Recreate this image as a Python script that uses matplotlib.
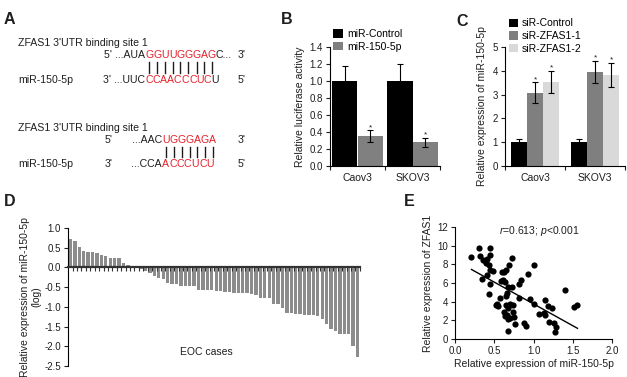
import matplotlib
matplotlib.use('Agg')
import matplotlib.pyplot as plt
import numpy as np
from matplotlib.font_manager import FontProperties

plt.rcParams['font.family'] = ['Liberation Sans', 'DejaVu Sans']
plt.rcParams['axes.unicode_minus'] = False
plt.rcParams['mathtext.fontset'] = 'custom'
plt.rcParams['mathtext.rm'] = 'Liberation Sans'
plt.rcParams['mathtext.it'] = 'Liberation Sans:italic'
plt.rcParams['axes.linewidth'] = 0.8

# ------------------------------------
# Data
# ------------------------------------
# panel A: (black prefix, red paired bases, black suffix)
site1_top = ('5\' ...AUA', 'GGUUGGGAG', 'C...')
site1_mir = ('3\' ...UUC', 'CCAACCCUC', 'U')
site2_top = ('...AAC', 'UGGGAGA', '')
site2_mir = ('...CCA', 'ACCCUCU', '')

cell_lines = ['Caov3', 'SKOV3']

luc_labels = ['miR-Control', 'miR-150-5p']
luc_mean = [[1.0, 1.0], [0.35, 0.28]]
luc_err = [[0.18, 0.20], [0.07, 0.055]]

sirna_labels = ['siR-Control', 'siR-ZFAS1-1', 'siR-ZFAS1-2']
sirna_mean = [[1.0, 1.0], [3.08, 3.95], [3.53, 3.83]]
sirna_err = [[0.12, 0.12], [0.43, 0.46], [0.46, 0.50]]

eoc_log_expr = [0.72, 0.66, 0.53, 0.42, 0.40, 0.38, 0.36, 0.32, 0.29, 0.25,
                0.24, 0.23, 0.11, 0.06, 0.02, -0.02, -0.05, -0.08, -0.13, -0.21,
                -0.28, -0.30, -0.40, -0.42, -0.42, -0.47, -0.47, -0.48, -0.48, -0.57,
                -0.57, -0.58, -0.58, -0.60, -0.61, -0.62, -0.62, -0.64, -0.65, -0.66,
                -0.66, -0.67, -0.69, -0.77, -0.77, -0.77, -0.92, -0.92, -1.04, -1.15,
                -1.16, -1.18, -1.19, -1.20, -1.21, -1.21, -1.24, -1.30, -1.44, -1.55,
                -1.60, -1.68, -1.70, -1.70, -1.99, -2.27]

mir_expr = [0.21, 0.30, 0.32, 0.36, 0.41, 0.44, 0.45, 0.43, 0.44, 0.48,
            0.40, 0.34, 0.41, 0.45, 0.43, 0.63, 0.65, 0.69, 0.72, 0.61,
            0.64, 0.67, 0.72, 0.57, 0.54, 0.55, 0.65, 0.65, 0.67, 0.70,
            0.74, 0.74, 0.62, 0.64, 0.66, 0.68, 0.75, 0.77, 0.68, 0.84,
            0.81, 0.81, 0.93, 1.01, 0.95, 1.00, 1.07, 0.88, 0.90, 1.15,
            1.19, 1.14, 1.15, 1.20, 1.26, 1.29, 1.27, 1.24, 1.40, 1.52,
            1.56, 0.60, 0.52, 0.58, 0.70, 0.66]
zfas1_expr = [8.8, 9.7, 8.9, 8.5, 8.6, 9.8, 9.0, 7.9, 7.4, 7.3,
              8.1, 6.4, 6.9, 5.9, 4.8, 7.2, 7.4, 7.9, 8.7, 6.3,
              6.1, 5.6, 5.6, 4.4, 3.7, 3.5, 4.6, 3.6, 3.3, 3.8,
              3.6, 2.9, 2.9, 2.5, 2.6, 2.1, 2.4, 1.6, 0.9, 6.3,
              5.9, 4.4, 7.0, 7.9, 4.3, 3.7, 2.7, 1.7, 1.4, 4.2,
              3.5, 2.8, 2.6, 1.8, 1.7, 1.3, 0.8, 3.3, 5.2, 3.4,
              3.6, 7.2, 3.6, 6.2, 2.3, 4.9]

# regression line as drawn in the original figure
fit_slope = -4.67
fit_intercept = 8.43

# ------------------------------------
# Figure, pixel based overlay for panel A and panel letters
# ------------------------------------
W, H = 627, 377
fig = plt.figure(figsize=(W / 100, H / 100), dpi=100)
ax0 = fig.add_axes([0, 0, 1, 1])
ax0.set_xlim(0, W)
ax0.set_ylim(H, 0)
ax0.axis('off')
renderer = fig.canvas.get_renderer()

TXT = '#1e1e1e'
RED = '#e8202a'
fsA = 7.6
fpA = FontProperties(family='Liberation Sans', size=fsA)


def text_width(s):
    w, h, d = renderer.get_text_width_height_descent(s, fpA, ismath=False)
    return w


def draw_pair_row(x_red, y, parts):
    prefix, red, suffix = parts
    ax0.text(x_red, y, prefix, ha='right', va='center', fontsize=fsA, color=TXT)
    x = x_red
    centers = []
    for ch in red:
        ax0.text(x, y, ch, ha='left', va='center', fontsize=fsA, color=RED)
        w = text_width(ch)
        centers.append(x + w / 2)
        x += w
    if suffix:
        ax0.text(x, y, suffix, ha='left', va='center', fontsize=fsA, color=TXT)
    return centers


def draw_site(y_title, y_top, y_mir, x_red, top, mir, end_top, end_mir, start_top=None, start_mir=None):
    ax0.text(18, y_title, 'ZFAS1 3\'UTR binding site 1', va='center', fontsize=fsA, color=TXT)
    ax0.text(18, y_mir, 'miR-150-5p', va='center', fontsize=fsA, color=TXT)
    if start_top:
        ax0.text(105, y_top, start_top, va='center', fontsize=fsA, color=TXT)
        ax0.text(105, y_mir, start_mir, va='center', fontsize=fsA, color=TXT)
    centers = draw_pair_row(x_red, y_top, top)
    draw_pair_row(x_red, y_mir, mir)
    ax0.text(238, y_top, end_top, va='center', fontsize=fsA, color=TXT)
    ax0.text(238, y_mir, end_mir, va='center', fontsize=fsA, color=TXT)
    for cx in centers:
        ax0.plot([cx, cx], [y_top + 7, y_mir - 7], color=TXT, lw=1.0)


draw_site(43, 55, 80, 145, site1_top, site1_mir, '3\'', '5\'')
draw_site(128, 140, 164, 162, site2_top, site2_mir, '3\'', '5\'', "5'", "3'")

for letter, (lx, ly) in zip('ABCDE', [(4, 20), (281, 19), (456, 22), (4, 202), (404, 202)]):
    ax0.text(lx, ly, letter, fontsize=11.5, fontweight='bold', va='center', color=TXT)


def style_axes(ax):
    ax.spines['top'].set_visible(False)
    ax.spines['right'].set_visible(False)
    ax.tick_params(direction='out', length=3, width=0.8, labelsize=7, pad=2, colors=TXT)


def group_ticks(ax):
    ax.set_xlim(0.5, 2.5)
    ax.set_xticks([0.5, 1.5, 2.5])
    ax.set_xticklabels([])
    ax.set_xticks([1, 2], minor=True)
    ax.set_xticklabels(cell_lines, minor=True, fontsize=7.5, color=TXT)
    ax.tick_params(axis='x', which='minor', length=0, pad=5)


err_style = dict(ecolor='black', elinewidth=0.8, capsize=2.5, capthick=0.8)

# ------------------------------------
# Panel B
# ------------------------------------
axB = fig.add_axes([330 / W, 1 - 166 / H, 110 / W, 119 / H])
xs = np.arange(1, len(cell_lines) + 1)
wB = 0.47
colorsB = ['black', '#808080']
for i, lab in enumerate(luc_labels):
    pos = xs + (i - 0.5) * wB
    axB.bar(pos, luc_mean[i], wB, yerr=luc_err[i], color=colorsB[i], label=lab, error_kw=err_style)
    if i == 1:
        for p, m, e in zip(pos, luc_mean[i], luc_err[i]):
            axB.text(p, m + e + 0.03, '*', ha='center', va='center', fontsize=6, color=TXT)
axB.set_ylim(0, 1.4)
axB.set_yticks(np.arange(0, 1.41, 0.2))
axB.set_yticklabels(['%.1f' % v for v in np.arange(0, 1.41, 0.2)])
style_axes(axB)
group_ticks(axB)
axB.set_ylabel('Relative luciferase activity', fontsize=7.5, color=TXT, labelpad=3)
axB.legend(loc='upper left', bbox_to_anchor=(0.03, 1.15), frameon=False, fontsize=7.5,
           handlelength=0.9, handleheight=0.9, handletextpad=0.4, labelspacing=0.25,
           borderaxespad=0, borderpad=0)

# ------------------------------------
# Panel C
# ------------------------------------
axC = fig.add_axes([505 / W, 1 - 166 / H, 120 / W, 119 / H])
wC = 0.267
colorsC = ['black', '#7f7f7f', '#d9d9d9']
for i, lab in enumerate(sirna_labels):
    pos = xs + (i - 1) * wC
    axC.bar(pos, sirna_mean[i], wC, yerr=sirna_err[i], color=colorsC[i], label=lab, error_kw=err_style)
    if i > 0:
        for p, m, e in zip(pos, sirna_mean[i], sirna_err[i]):
            axC.text(p, m + e + 0.12, '*', ha='center', va='center', fontsize=6, color=TXT)
axC.set_ylim(0, 5)
axC.set_yticks(range(0, 6))
style_axes(axC)
group_ticks(axC)
axC.set_ylabel('Relative expression of miR-150-5p', fontsize=7.5, color=TXT, labelpad=4)
axC.legend(loc='upper left', bbox_to_anchor=(0.03, 1.24), frameon=False, fontsize=7.5,
           handlelength=0.9, handleheight=0.9, handletextpad=0.4, labelspacing=0.25,
           borderaxespad=0, borderpad=0)

# ------------------------------------
# Panel D
# ------------------------------------
axD = fig.add_axes([68 / W, 1 - 366 / H, 292 / W, 138 / H])
idx = np.arange(len(eoc_log_expr))
axD.bar(idx, eoc_log_expr, 0.75, color='#8c8c8c')
axD.set_xlim(-0.55, len(eoc_log_expr) - 0.45)
axD.set_ylim(-2.5, 1.0)
yt = np.arange(-2.5, 1.01, 0.5)
axD.set_yticks(yt)
axD.set_yticklabels(['%.1f' % v for v in yt])
style_axes(axD)
axD.spines['bottom'].set_position(('data', 0))
axD.spines['bottom'].set_linewidth(1.6)
axD.spines['bottom'].set_color('#333333')
axD.set_xticks(idx + 0.5)
axD.set_xticklabels([])
axD.tick_params(axis='x', length=3, width=0.8, colors='#333333')
axD.set_ylabel('Relative expression of miR-150-5p\n(log)', fontsize=7.5, color=TXT, labelpad=2)
axD.text(0.475, 0.10, 'EOC cases', transform=axD.transAxes, ha='center', va='center',
         fontsize=7.5, color=TXT)

# ------------------------------------
# Panel E
# ------------------------------------
axE = fig.add_axes([455 / W, 1 - 339 / H, 157 / W, 112 / H])
mx = np.array(mir_expr)
zy = np.array(zfas1_expr)
axE.scatter(mx, zy, s=20, color='black', linewidths=0, zorder=3)
lx = np.array([mx.min(), mx.max()])
axE.plot(lx, fit_slope * lx + fit_intercept, color='black', lw=1.0)
axE.set_xlim(0, 2)
axE.set_ylim(0, 12)
axE.set_xticks(np.arange(0, 2.01, 0.5))
axE.set_xticklabels(['%.1f' % v for v in np.arange(0, 2.01, 0.5)])
axE.set_yticks(range(0, 13, 2))
style_axes(axE)
axE.set_xlabel('Relative expression of miR-150-5p', fontsize=7.5, color=TXT, labelpad=2)
axE.set_ylabel('Relative expression of ZFAS1', fontsize=7.5, color=TXT, labelpad=3)
axE.text(1.08, 11.6, r'$\mathit{r}$=0.613; $\mathit{p}$<0.001', ha='center', va='center',
         fontsize=7.5, color=TXT)

fig.savefig('out.png', dpi=100)
